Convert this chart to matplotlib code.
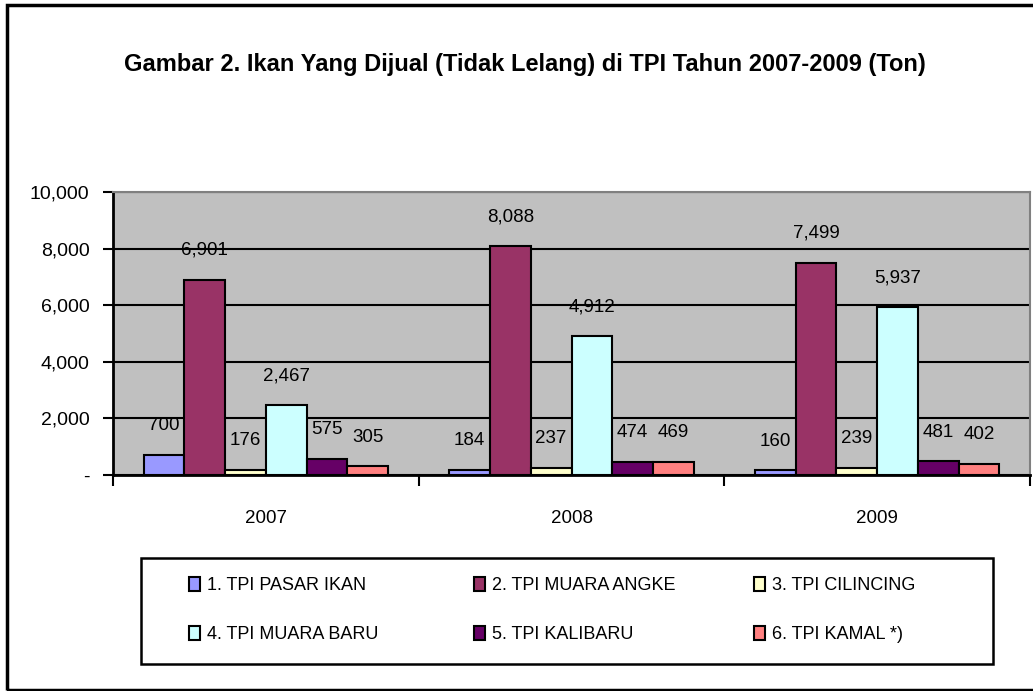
import matplotlib
matplotlib.use("Agg")
import matplotlib.pyplot as plt
import numpy as np
from matplotlib.patches import Rectangle
from matplotlib.ticker import FixedLocator, FuncFormatter

plt.rcParams['font.family'] = ['Liberation Sans', 'DejaVu Sans']

years = ["2007", "2008", "2009"]
series_names = ["1. TPI PASAR IKAN", "2. TPI MUARA ANGKE", "3. TPI CILINCING",
                "4. TPI MUARA BARU", "5. TPI KALIBARU", "6. TPI KAMAL *)"]
pasar_ikan = [700, 184, 160]
muara_angke = [6901, 8088, 7499]
cilincing = [176, 237, 239]
muara_baru = [2467, 4912, 5937]
kalibaru = [575, 474, 481]
kamal = [305, 469, 402]
series_values = [pasar_ikan, muara_angke, cilincing, muara_baru, kalibaru, kamal]
colors = ["#9999FF", "#993366", "#FFFFCC", "#CCFFFF", "#660066", "#FF8080"]
y_ticks = [0, 2000, 4000, 6000, 8000, 10000]

W, H = 1033, 691
fig = plt.figure(figsize=(W / 100, H / 100), dpi=100)
ax = fig.add_axes([113 / W, 1 - 475 / H, (1030 - 113) / W, (475 - 192) / H])
ax.set_facecolor("#C0C0C0")

bw = 1 / 7.5
x = np.arange(len(years))
handles = []
for i, (name, vals, c) in enumerate(zip(series_names, series_values, colors)):
    pos = x - 3 * bw + (i + 0.5) * bw
    bars = ax.bar(pos, vals, width=bw, color=c, edgecolor="black", linewidth=1.5,
                  label=name, zorder=3)
    handles.append(bars)
    for b, v in zip(bars, vals):
        ax.annotate(f"{v:,}", (b.get_x() + b.get_width() / 2, v),
                    xytext=(0, 15), textcoords="offset points",
                    ha="center", va="bottom", fontsize=13.5, zorder=4)

ax.set_xlim(-0.5, len(years) - 0.5)
ax.set_ylim(0, 10000)
ax.set_yticks(y_ticks)
ax.yaxis.set_major_formatter(FuncFormatter(lambda v, p: "-" if v == 0 else f"{int(v):,}"))
ax.yaxis.grid(True, color="black", linewidth=1.5, zorder=1)
ax.set_axisbelow(True)
ax.tick_params(axis="y", direction="out", length=7, width=1.5, pad=10, labelsize=14)

ax.set_xticks(x)
ax.set_xticklabels(years)
ax.tick_params(axis="x", which="major", length=0, pad=25, labelsize=13.5)
ax.xaxis.set_minor_locator(FixedLocator(np.arange(len(years) + 1) - 0.5))
ax.tick_params(axis="x", which="minor", direction="out", length=8, width=1.5)

ax.spines["left"].set_linewidth(2)
ax.spines["bottom"].set_linewidth(2)
ax.spines["top"].set_color("#808080")
ax.spines["right"].set_color("#808080")
ax.spines["top"].set_linewidth(1.5)
ax.spines["right"].set_linewidth(1.5)

fig.text(525 / W, 1 - 64 / H,
         "Gambar 2. Ikan Yang Dijual (Tidak Lelang) di TPI Tahun 2007-2009 (Ton)",
         ha="center", va="center", fontsize=17, fontweight="bold")

# legend: three columns, row-wise order like the reference
col_x = [189, 474, 754]
for k in range(3):
    idx = [k, k + 3]
    leg = fig.legend([handles[j] for j in idx], [series_names[j] for j in idx],
                     loc="upper left", bbox_to_anchor=(col_x[k] / W, 1 - 577 / H),
                     frameon=False, fontsize=13, handlelength=0.6, handleheight=0.8,
                     handletextpad=0.4, borderpad=0, labelspacing=1.75,
                     borderaxespad=0)
fig.patches.append(Rectangle((141 / W, 1 - 664 / H), 852 / W, 106 / H,
                             transform=fig.transFigure, fill=False,
                             edgecolor="black", linewidth=1.8))

fig.patches.append(Rectangle((7 / W, 1 / H), 1.2, 1 - 6 / H, transform=fig.transFigure,
                             fill=False, edgecolor="black", linewidth=2.5))

fig.savefig("out.png", dpi=100)
